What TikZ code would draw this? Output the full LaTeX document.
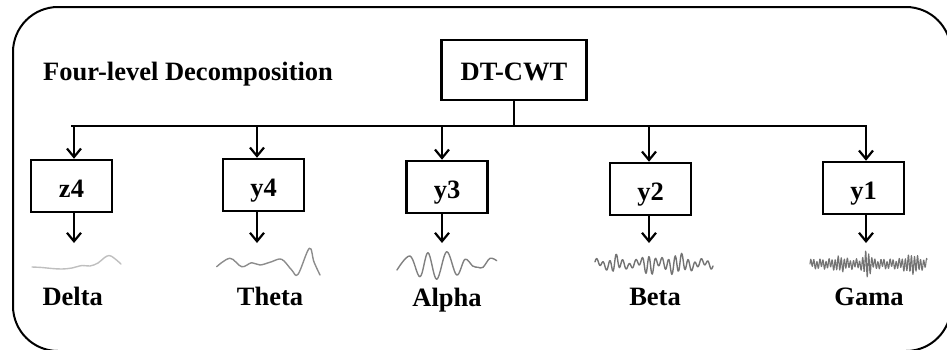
\documentclass[tikz,border=0pt]{standalone}
\usepackage{fontspec}
\setmainfont{Liberation Serif}
\usetikzlibrary{arrows.meta}

\tikzset{
  frame/.style={draw, line width=2pt, rounded corners=45pt},
  bandbox/.style={draw, line width=2.5pt, minimum width=81pt, minimum height=52pt,
    inner sep=0pt, text height=22pt, text depth=0pt,
    font=\bfseries\fontsize{26.5}{30}\selectfont},
  topbox/.style={bandbox, minimum width=145pt, minimum height=60pt, text height=20pt},
  title/.style={inner sep=0pt, font=\bfseries\fontsize{26.5}{30}\selectfont},
  band/.style={title, anchor=base},
  wire/.style={line width=2.5pt},
  feed/.style={line width=2.2pt, -{Straight Barb[length=8.5pt,width=14pt,line width=2.2pt]}},
  wave/.style={line width=1.4pt, line join=round, line cap=round},
}

\begin{document}
\begin{tikzpicture}[x=1pt, y=-1pt]
\useasboundingbox (0,0) rectangle (947,349);

% outer frame
\draw[frame] (13,7) rectangle (951,351);

% heading and transform block
\node[title, anchor=base west] (head) at (43,80) {Four-level Decomposition};
\node[topbox] (dtcwt) at (514,70) {DT-CWT};

% sub-band blocks
\node[bandbox] (z4) at (71.5,186) {z4};
\node[bandbox] (y4) at (263.5,185) {y4};
\node[bandbox] (y3) at (447,187) {y3};
\node[bandbox] (y2) at (650.5,189) {y2};
\node[bandbox] (y1) at (863.5,188) {y1};

% distribution bus
\coordinate (bz4) at (74,126);
\coordinate (by4) at (257,126);
\coordinate (by3) at (442,126);
\coordinate (by2) at (649,126);
\coordinate (by1) at (866,126);
\coordinate (busL) at (71,126);
\coordinate (busR) at (867.3,126);
\draw[wire] (dtcwt.south) -- (dtcwt.south |- busL);
\draw[wire] (busL) -- (busR);

\foreach \b in {z4,y4,y3,y2,y1}{
  \draw[feed] (b\b) -- (b\b |- \b.north);
}

% outputs of each block
\coordinate (oz4) at (74,243);
\coordinate (oy4) at (257,243);
\coordinate (oy3) at (442,243);
\coordinate (oy2) at (649,243);
\coordinate (oy1) at (866,243);
\foreach \b in {z4,y4,y3,y2,y1}{
  \draw[feed] (o\b |- \b.south) -- (o\b);
}

% band waveforms
\draw[wave, draw=black!25] plot[smooth, tension=0.6] coordinates {
  (32,267) (42,267.5) (52,268.5) (62,269) (72,268) (82,265.5) (90,266) (98,263) (104,258) (109,255.5) (114,258) (121,264)};
\draw[wave, draw=black!45] plot[smooth, tension=0.6] coordinates {
  (216.7,266.7) (230,258.3) (241.7,266.7) (251.7,262.7) (260,265) (271.7,261.7)
  (281.7,259.3) (291.7,270) (298,274.3) (309.3,248.3) (314,262) (320,275)};
\draw[wave, draw=black!50] plot[smooth, tension=0.6] coordinates {
  (397,270) (410,256) (420,276.7) (428,252.7) (436.7,279.3) (446.7,251.7)
  (456.7,275) (465,259.3) (472.7,266) (478,267.3) (483,267.3) (490,258.3) (496.7,260.7)};
\draw[wave, draw=black!55, line width=1.4pt] plot[smooth, tension=0.5, domain=0:118, samples=170, variable=\t]
  ({595+\t}, {264 - (3+7*exp(-((\t-54)/6)^2)+5*exp(-((\t-20)/6)^2)+6*exp(-((\t-82)/12)^2))*sin(55*\t) - 2.5*sin(17*\t+60)});
\draw[wave, draw=black!55, line width=1.1pt] plot[domain=0:117, samples=300, variable=\t]
  ({810+\t}, {264 - (4+9*exp(-((\t-57)/4)^2)+5*exp(-((\t-102)/8)^2)+3*exp(-((\t-30)/6)^2))*sin(118*\t) - 1.5*sin(41*\t)});

% band names
\node[band] (ldelta) at (72.7,305) {Delta};
\node[band] (ltheta) at (270,305) {Theta};
\node[band] (lalpha) at (447,306) {Alpha};
\node[band] (lbeta)  at (655,305) {Beta};
\node[band] (lgama)  at (869,305) {Gama};
\end{tikzpicture}
\end{document}
